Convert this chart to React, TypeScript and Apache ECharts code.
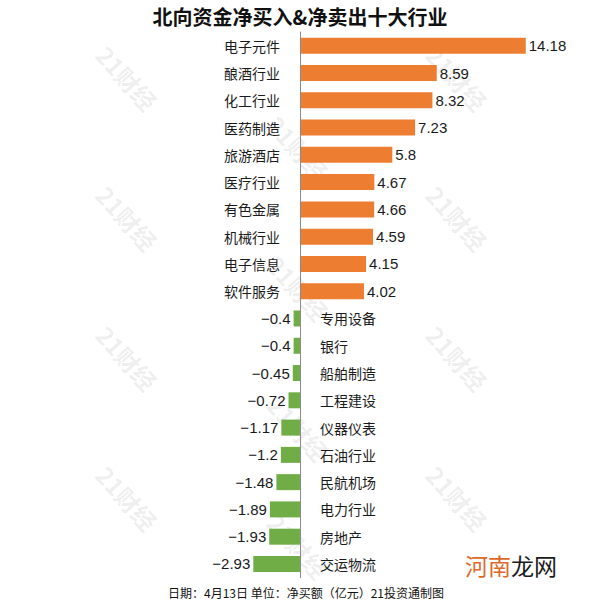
import React, { useEffect, useRef } from "react";
import * as echarts from "echarts";

const titleText = "北向资金净买入&净卖出十大行业";
const footerText = "日期：4月13日 单位：净买额（亿元）21投资通制图";
const categories = [
  "电子元件", "酿酒行业", "化工行业", "医药制造", "旅游酒店",
  "医疗行业", "有色金属", "机械行业", "电子信息", "软件服务",
  "专用设备", "银行", "船舶制造", "工程建设", "仪器仪表",
  "石油行业", "民航机场", "电力行业", "房地产", "交运物流",
];
const values = [
  14.18, 8.59, 8.32, 7.23, 5.8, 4.67, 4.66, 4.59, 4.15, 4.02,
  -0.4, -0.4, -0.45, -0.72, -1.17, -1.2, -1.48, -1.89, -1.93, -2.93,
];
const watermarkCols = [127, 298, 457];
const watermarkRowsOuter = [78, 218, 358, 498];
const watermarkRowsMiddle = [148, 288, 428, 546];

const POS = "#ED7D31";
const NEG = "#70AD47";
const CJK = "'Noto Sans CJK SC', sans-serif";
const LAT = "'Liberation Sans', 'Noto Sans CJK SC', sans-serif";

function fmt(v: number) {
  return v < 0 ? "\u2212" + String(Math.abs(v)) : String(v);
}

export default function App() {
  const ref = useRef<HTMLDivElement>(null);
  useEffect(() => {
    if (!ref.current) return;
    const chart = echarts.init(ref.current, undefined, { renderer: "svg" });

    const watermarks: any[] = [];
    watermarkCols.forEach((x, ci) => {
      const rows = ci === 1 ? watermarkRowsMiddle : watermarkRowsOuter;
      rows.forEach((y) => {
        watermarks.push({
          type: "text",
          x,
          y,
          rotation: (-48 * Math.PI) / 180,
          z: -10,
          silent: true,
          style: {
            text: "21财经",
            fontSize: 24,
            fontWeight: "bold",
            fontFamily: CJK,
            fill: "rgba(0,0,0,0.08)",
            align: "center",
            verticalAlign: "middle",
          },
        });
      });
    });

    chart.setOption({
      animation: false,
      backgroundColor: "#ffffff",
      title: {
        text: titleText,
        left: "center",
        top: 1,
        textStyle: {
          fontSize: 20,
          fontWeight: "bold",
          fontFamily: CJK,
          color: "#111",
        },
      },
      grid: { left: 252.2, right: 61.2, top: 32.1, bottom: 22.4 },
      xAxis: {
        type: "value",
        min: -3,
        max: 15,
        show: false,
        splitLine: { show: false },
      },
      yAxis: {
        type: "category",
        inverse: true,
        data: categories,
        axisLine: { show: true, onZero: true, lineStyle: { color: "#8a8a8a", width: 1 } },
        axisTick: { show: false },
        axisLabel: { show: false },
        splitLine: { show: false },
        z: 10,
      },
      graphic: [
        ...watermarks,
        {
          type: "text",
          x: 306,
          y: 592,
          style: {
            text: footerText,
            fontSize: 12,
            fontFamily: CJK,
            fill: "#111",
            align: "center",
            verticalAlign: "middle",
          },
        },
        {
          type: "text",
          x: 465,
          y: 565,
          style: {
            text: "{a|河南}{b|龙网}",
            verticalAlign: "middle",
            rich: {
              a: { fontSize: 23, fontFamily: CJK, fill: "#E0672A", color: "#E0672A" },
              b: { fontSize: 23, fontFamily: CJK, fill: "#1a1a1a", color: "#1a1a1a" },
            },
          },
        },
      ],
      series: [
        {
          type: "bar",
          barWidth: 16,
          barGap: "-100%",
          data: values.map((v) => ({
            value: v,
            itemStyle: { color: v >= 0 ? POS : NEG },
            label: {
              show: true,
              position: v >= 0 ? "right" : "left",
              distance: 3,
              formatter: () => fmt(v),
              fontSize: 15,
              fontFamily: LAT,
              color: "#1a1a1a",
            },
          })),
        },
        {
          type: "bar",
          barWidth: 16,
          barGap: "-100%",
          silent: true,
          itemStyle: { color: "rgba(0,0,0,0)" },
          data: values.map((v, i) => ({
            value: 0,
            label: {
              show: true,
              position: v >= 0 ? "left" : "right",
              distance: 20,
              formatter: () => categories[i],
              fontSize: 14,
              fontFamily: CJK,
              color: "#1a1a1a",
            },
          })),
        },
      ],
    });
    return () => chart.dispose();
  }, []);
  return (
    <div
      ref={ref}
      style={{ position: "absolute", left: 0, top: 0, width: 600, height: 600 }}
    />
  );
}
